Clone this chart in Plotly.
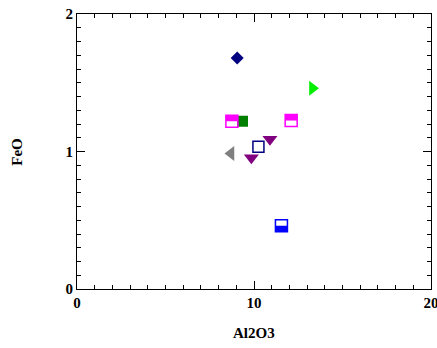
import plotly.graph_objects as go

# Data points (Al2O3, FeO)
diamond_x = [9.05]; diamond_y = [1.68]
tri_right_x = [13.3]; tri_right_y = [1.46]
green_sq_x = [9.35]; green_sq_y = [1.22]
magenta_half_x = [8.75, 12.1]; magenta_half_y = [1.22, 1.225]
tri_down_x = [10.9, 9.85]; tri_down_y = [1.09, 0.955]
open_sq_x = [10.25]; open_sq_y = [1.035]
tri_left_x = [8.7]; tri_left_y = [0.985]
blue_half_x = [11.55]; blue_half_y = [0.46]

fig = go.Figure()

def add(x, y, symbol, color, size, line_color=None, line_width=0):
    fig.add_trace(go.Scatter(
        x=x, y=y, mode="markers", cliponaxis=False,
        marker=dict(symbol=symbol, color=color, size=size,
                    line=dict(color=line_color or color, width=line_width)),
        showlegend=False, hoverinfo="skip"))

add(diamond_x, diamond_y, "diamond", "#000080", 10)
add(tri_right_x, tri_right_y, "triangle-right", "#00ee00", 13)
add(green_sq_x, green_sq_y, "square", "#007f00", 11)
add(tri_down_x, tri_down_y, "triangle-down", "#800080", 13)
add(open_sq_x, open_sq_y, "square-open", "#000080", 11, line_width=1.5)
add(tri_left_x, tri_left_y, "triangle-left", "#808080", 13)

# half-filled squares: filled half via pixel-sized shapes anchored at data points
half = 6
for x, y in zip(magenta_half_x, magenta_half_y):
    fig.add_shape(type="rect", xref="x", yref="y", xsizemode="pixel", ysizemode="pixel",
                  xanchor=x, yanchor=y, x0=-half, x1=half, y0=0, y1=half,
                  fillcolor="#ff00ff", line=dict(width=0), layer="above")
for x, y in zip(blue_half_x, blue_half_y):
    fig.add_shape(type="rect", xref="x", yref="y", xsizemode="pixel", ysizemode="pixel",
                  xanchor=x, yanchor=y, x0=-half, x1=half, y0=-half, y1=0,
                  fillcolor="#0000ff", line=dict(width=0), layer="above")
add(magenta_half_x, magenta_half_y, "square-open", "#ff00ff", 12, line_width=1.5)
add(blue_half_x, blue_half_y, "square-open", "#0000ff", 12, line_width=1.5)

font = dict(family="Liberation Serif", size=15, color="black")
axis_common = dict(showgrid=False, zeroline=False, showline=True, linecolor="black",
                   linewidth=1, mirror="allticks", ticks="inside", ticklen=8,
                   tickcolor="black", tickfont=font, automargin=False,
                   ticklabeloverflow="allow")
fig.update_xaxes(range=[0, 20], tickvals=[0, 10, 20], ticktext=["<b>0</b>", "<b>10</b>", "<b>20</b>"],
                 minor=dict(dtick=1, ticks="inside", ticklen=4, tickcolor="black"),
                 **axis_common)
fig.update_yaxes(range=[0, 2], tickvals=[0, 1, 2], ticktext=["<b>0</b>", "<b>1</b>", "<b>2</b>"],
                 minor=dict(dtick=0.1, ticks="inside", ticklen=4, tickcolor="black"),
                 **axis_common)
fig.add_annotation(text="<b>Al2O3</b>", xref="paper", yref="paper", x=0.5, y=-0.125,
                   yanchor="top", showarrow=False, font=font)
fig.add_annotation(text="<b>FeO</b>", xref="paper", yref="paper", x=-0.2, y=0.5,
                   textangle=-90, showarrow=False, font=font)
fig.update_layout(width=437, height=348, margin=dict(l=77, r=6, t=14, b=59),
                  paper_bgcolor="white", plot_bgcolor="white", font=font)
fig.write_html("out.html", config={"displayModeBar": False},
               post_script="document.body.style.margin='0';document.body.style.padding='0';")
